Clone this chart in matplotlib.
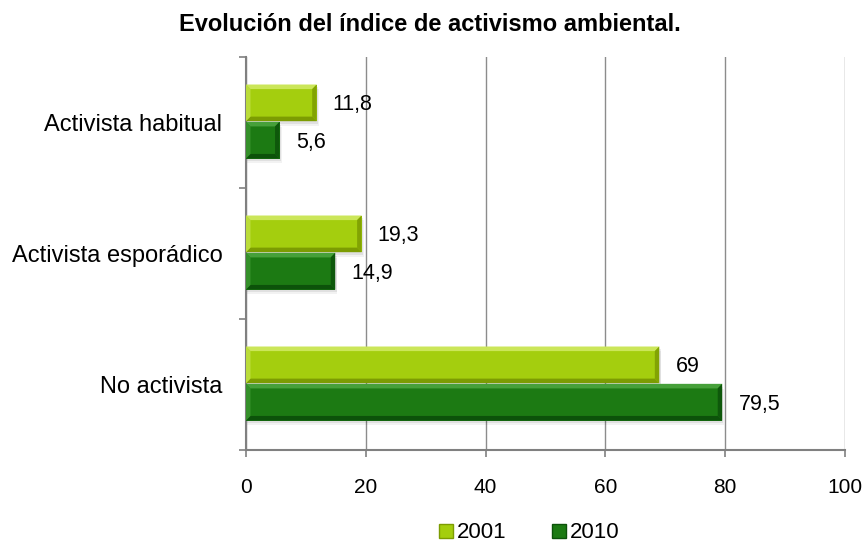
import matplotlib
matplotlib.use("Agg")
import matplotlib.pyplot as plt
import numpy as np
from matplotlib.lines import Line2D

categories = ["No activista", "Activista esporádico", "Activista habitual"]
series_names = ["2001", "2010"]
values_2001 = [69, 19.3, 11.8]
values_2010 = [79.5, 14.9, 5.6]
x_ticks = [0, 20, 40, 60, 80, 100]
title = "Evolución del índice de activismo ambiental."

# face, light bevel, dark bevel
pal_2001 = ("#A4CE0E", "#CBE659", "#7C9C02")
pal_2010 = ("#1C7A13", "#46A03A", "#0C520A")

plt.rcParams['font.family'] = ['Liberation Sans', 'DejaVu Sans']

W, H = 864, 546
fig = plt.figure(figsize=(W / 100, H / 100), dpi=100)
x0, x1, y0, y1 = 246, 845, 57, 450
ax = fig.add_axes([x0 / W, 1 - y1 / H, (x1 - x0) / W, (y1 - y0) / H])

y = np.arange(len(categories))
h = 0.28
dys = [0.15, -0.135]

def fmt(v):
    return f"{v:g}".replace(".", ",")

ax.set_xlim(0, 100)
ax.set_ylim(-0.5, 2.5)

bx = 0.75   # bevel width in x units (~4.5 px)
by = 0.035  # bevel height in y units (~4.5 px)

for vals, pal, dy in [(values_2001, pal_2001, dys[0]), (values_2010, pal_2010, dys[1])]:
    face, light, dark = pal
    yc = y + dy
    # soft shadow
    for k, a in [(1.2, 0.05), (0.7, 0.07)]:
        ax.barh(yc - 0.03 * k, np.array(vals) + 0.3 * k, height=h, left=0.0,
                color="black", alpha=a, linewidth=0, zorder=2)
    ax.barh(yc, vals, height=h, color=face, linewidth=0, zorder=3)
    for yi, v in zip(yc, vals):
        t, b = yi + h / 2, yi - h / 2
        # top bevel
        ax.fill([0, v, v - bx, bx], [t, t, t - by, t - by], color=light, lw=0, zorder=4)
        # bottom bevel
        ax.fill([0, v, v - bx, bx], [b, b, b + by, b + by], color=dark, lw=0, zorder=4)
        # right bevel
        ax.fill([v, v, v - bx, v - bx], [t, b, b + by, t - by], color=dark, lw=0,
                zorder=4, alpha=0.85)
        # left bevel
        ax.fill([0, 0, bx, bx], [t, b, b + by, t - by], color=light, lw=0,
                zorder=4, alpha=0.6)
        ax.text(v + 2.7, yi - 0.015, fmt(v), va="center", ha="left",
                fontsize=15.5, zorder=5)

ax.set_xticks(x_ticks)
ax.set_xticklabels([str(t) for t in x_ticks], fontsize=15)
ax.set_yticks(y)
ax.set_yticklabels(categories, fontsize=17)
ax.set_yticks([-0.5, 0.5, 1.5, 2.5], minor=True)
ax.tick_params(axis="y", which="major", length=0, pad=17)
ax.tick_params(axis="y", which="minor", length=5, color="#808080", width=1.2)
ax.tick_params(axis="x", which="major", length=5, color="#808080", width=1.2, pad=15)

ax.grid(axis="x", color="#8C8C8C", linewidth=1.0, zorder=0)
ax.set_axisbelow(True)
for s in ["top", "right"]:
    ax.spines[s].set_visible(False)
for s in ["left", "bottom"]:
    ax.spines[s].set_color("#808080")
    ax.spines[s].set_linewidth(1.5)

fig.text(430 / W, 1 - 31 / H, title, fontsize=17, fontweight="bold",
         ha="center", va="baseline")

handles = [Line2D([0], [0], marker="s", linestyle="none", markersize=10,
                  markerfacecolor=pal_2001[0], markeredgecolor=pal_2001[2],
                  markeredgewidth=1.0),
           Line2D([0], [0], marker="s", linestyle="none", markersize=10,
                  markerfacecolor=pal_2010[0], markeredgecolor=pal_2010[2],
                  markeredgewidth=1.0)]
fig.legend(handles, series_names, loc="center", bbox_to_anchor=(529 / W, 1 - 533 / H),
           ncol=2, frameon=False, fontsize=16, handletextpad=0.15,
           columnspacing=2.0, handlelength=0.7, borderaxespad=0, borderpad=0)

fig.savefig("out.png", dpi=100)
